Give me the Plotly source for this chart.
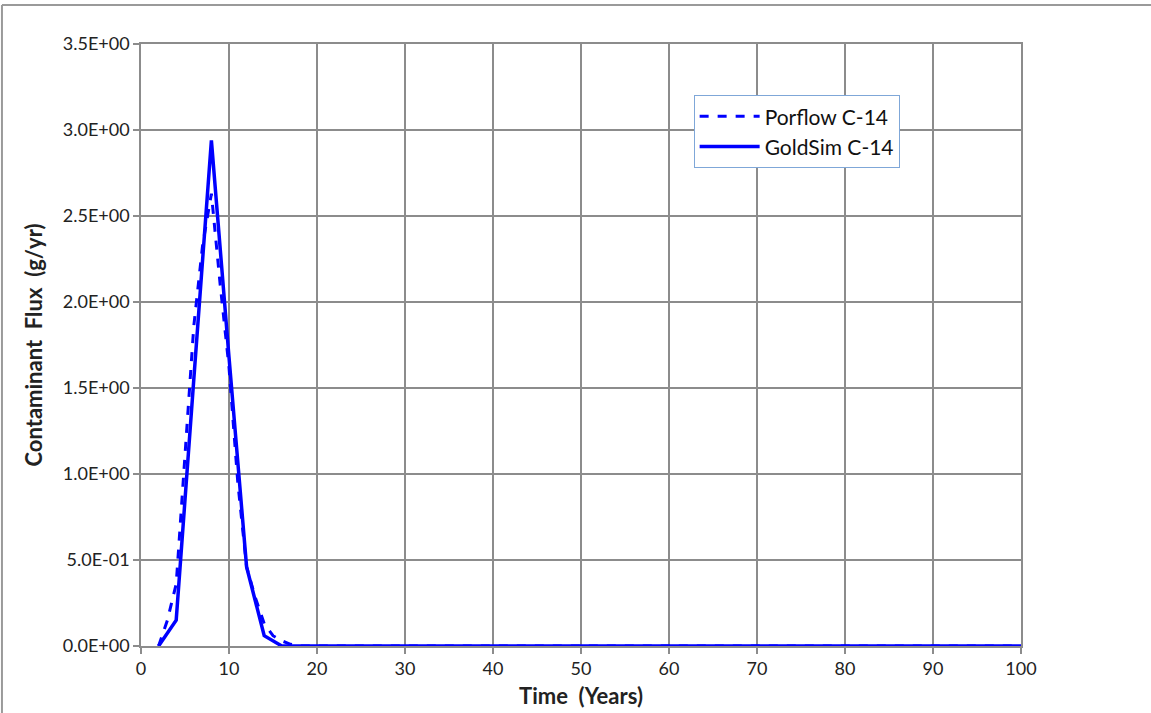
import plotly.graph_objects as go

# Porflow C-14 (dashed)
porflow_t = [2, 3, 4, 5, 6, 7, 8, 9, 10, 11, 12, 13, 14, 15, 16, 17, 18, 20, 30, 40, 50, 60, 70, 80, 90, 100]
porflow_v = [0.0, 0.15, 0.36, 1.08, 1.86, 2.33, 2.63, 2.1, 1.62, 0.95, 0.46, 0.28, 0.13, 0.06, 0.03, 0.01, 0.0, 0.0, 0.0, 0.0, 0.0, 0.0, 0.0, 0.0, 0.0, 0.0]

# GoldSim C-14 (solid)
goldsim_t = [2, 4, 6, 8, 10, 12, 14, 16, 18, 20, 30, 40, 50, 60, 70, 80, 90, 100]
goldsim_v = [0.0, 0.15, 1.55, 2.94, 1.68, 0.46, 0.06, 0.0, 0.0, 0.0, 0.0, 0.0, 0.0, 0.0, 0.0, 0.0, 0.0, 0.0]

y_ticks = [0, 0.5, 1.0, 1.5, 2.0, 2.5, 3.0, 3.5]
y_tick_labels = ["0.0E+00", "5.0E-01", "1.0E+00", "1.5E+00", "2.0E+00", "2.5E+00", "3.0E+00", "3.5E+00"]
x_ticks = list(range(0, 101, 10))

FONT = "Lato, 'Open Sans', sans-serif"
GRID = "#8c8c8c"
NB = "\u00a0"

fig = go.Figure()
fig.add_trace(go.Scatter(x=porflow_t, y=porflow_v, mode="lines", name="Porflow C-14",
                         line=dict(color="#0000ff", width=3, dash="dash")))
fig.add_trace(go.Scatter(x=goldsim_t, y=goldsim_v, mode="lines", name="GoldSim C-14",
                         line=dict(color="#0000ff", width=3.5)))

fig.update_layout(
    width=1151, height=713,
    margin=dict(l=141, r=130, t=44, b=67),
    paper_bgcolor="white", plot_bgcolor="white",
    font=dict(family=FONT, size=18, color="#222"),
    showlegend=True,
    legend=dict(x=0.628, y=0.915, xanchor="left", yanchor="top",
                bordercolor="#7fa7d8", borderwidth=1, bgcolor="white",
                font=dict(size=21, family=FONT, color="#111"),
                tracegroupgap=0, itemwidth=60),
    xaxis=dict(range=[0, 100], tickvals=x_ticks, showgrid=True, gridcolor=GRID, gridwidth=1.5,
               ticks="outside", ticklen=6, tickcolor=GRID, tickwidth=1.5,
               showline=True, linecolor=GRID, linewidth=1.5, mirror=True, zeroline=False,
               tickfont=dict(size=18), automargin=False,
               title=dict(text="<b>Time" + NB + " (Years)</b>", font=dict(size=22), standoff=10)),
    yaxis=dict(range=[0, 3.5], tickvals=y_ticks, ticktext=y_tick_labels, showgrid=True,
               gridcolor=GRID, gridwidth=1.5,
               ticks="outside", ticklen=6, tickcolor=GRID, tickwidth=1.5,
               showline=True, linecolor=GRID, linewidth=1.5, mirror=True, zeroline=False,
               tickfont=dict(size=18), automargin=False,
               title=dict(text="<b>Contaminant" + NB + " Flux" + NB + " (g/yr)</b>",
                          font=dict(size=22), standoff=14)),
)

# outer chart frame (top and left edges visible)
fig.add_shape(type="line", xref="paper", yref="paper", x0=-0.158, x1=1.2, y0=1.0648, y1=1.0648,
              line=dict(color="#9a9a9a", width=2))
fig.add_shape(type="line", xref="paper", yref="paper", x0=-0.158, x1=-0.158, y0=1.0648, y1=-0.2,
              line=dict(color="#9a9a9a", width=2))

fig.write_html("out.html", config={"displayModeBar": False},
               post_script="document.body.style.margin='0';document.body.style.overflow='hidden';")
